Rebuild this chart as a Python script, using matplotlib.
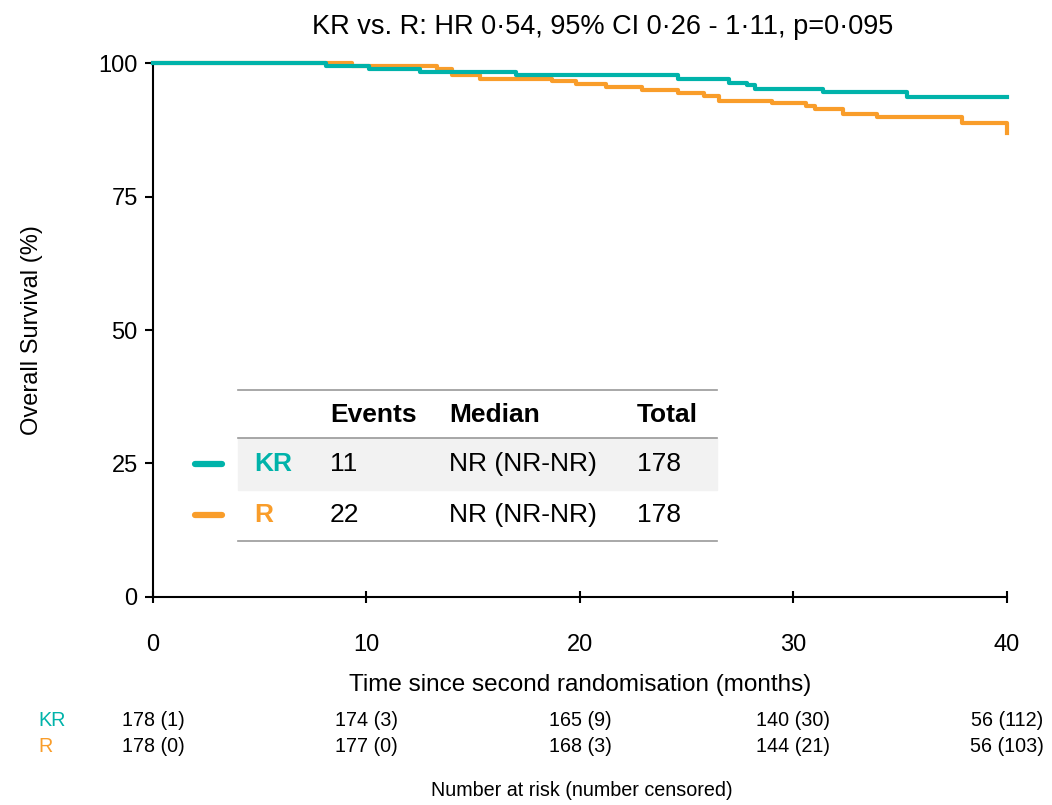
import matplotlib.pyplot as plt
import numpy as np

plt.rcParams['font.family'] = ['Liberation Sans', 'DejaVu Sans']

teal = '#00b3aa'
orange = '#f99d2a'

# Kaplan-Meier steps (months, % surviving)
kr_t = [0, 8.1, 10.1, 12.5, 17.0, 24.6, 27.0, 27.8, 28.2, 31.4, 35.3, 40]
kr_s = [100, 99.4, 98.9, 98.3, 97.7, 97.0, 96.3, 95.8, 95.2, 94.5, 93.6, 93.6]
r_t = [0, 9.3, 13.3, 14.0, 15.3, 18.7, 19.8, 21.2, 22.9, 24.6, 25.8, 26.5,
       29.0, 30.6, 31.0, 32.3, 33.9, 37.9, 40, 40]
r_s = [100, 99.4, 98.9, 97.7, 97.1, 96.6, 96.1, 95.6, 94.9, 94.4, 93.9, 92.9,
       92.5, 91.9, 91.3, 90.4, 89.8, 88.8, 86.9, 86.9]

groups = ['KR', 'R']
events = ['11', '22']
medians = ['NR (NR-NR)', 'NR (NR-NR)']
totals = ['178', '178']

risk_times = [0, 10, 20, 30, 40]
kr_risk = ['178 (1)', '174 (3)', '165 (9)', '140 (30)', '56 (112)']
r_risk = ['178 (0)', '177 (0)', '168 (3)', '144 (21)', '56 (103)']

fig = plt.figure(figsize=(10.52, 8.05), dpi=100)
ax = fig.add_axes([0.1454, 0.2584, 0.8118, 0.6633])

ax.step(kr_t, kr_s, where='post', color=teal, lw=3, clip_on=False, zorder=3)
ax.step(r_t, r_s, where='post', color=orange, lw=3, clip_on=False, zorder=2)

ax.set_xlim(0, 40)
ax.set_ylim(0, 100)
ax.set_xticks([0, 10, 20, 30, 40])
ax.set_yticks([0, 25, 50, 75, 100])
ax.spines['top'].set_visible(False)
ax.spines['right'].set_visible(False)
ax.spines['left'].set_linewidth(1.5)
ax.spines['bottom'].set_linewidth(1.5)
ax.tick_params(axis='x', direction='inout', length=9, width=1.5, pad=22, labelsize=17)
ax.tick_params(axis='y', direction='out', length=6, width=1.5, pad=5, labelsize=17)
ax.set_xlabel('Time since second randomisation (months)', fontsize=17.5, labelpad=13)
ax.set_ylabel('Overall Survival (%)', fontsize=17, labelpad=40)
ax.set_title('KR vs. R: HR 0·54, 95% CI 0·26 - 1·11, p=0·095', fontsize=19.5,
             pad=21, x=0.527)

# summary table inside the plot, in pixel-based figure coords
def fx(px):
    return px / 1052

def fy(py):
    return 1 - py / 805

tf = fig.transFigure
for yy in [390, 438, 541]:
    fig.add_artist(plt.Line2D([fx(238), fx(717)], [fy(yy), fy(yy)], transform=tf,
                              color='#999999', lw=1.2))
fig.add_artist(plt.Rectangle((fx(238), fy(490)), fx(717) - fx(238), fy(438) - fy(490),
                             transform=tf, color='#f2f2f2', zorder=0.5))
cols = [330, 449, 637]
for x, h in zip(cols, ['Events', 'Median', 'Total']):
    fig.text(fx(x), fy(415), h, fontsize=19, fontweight='bold', va='center', ha='left')
row_y = [464, 515]
for i, g in enumerate(groups):
    c = teal if i == 0 else orange
    fig.add_artist(plt.Line2D([fx(195), fx(222)], [fy(row_y[i]), fy(row_y[i])],
                              transform=tf, color=c, lw=4.5, solid_capstyle='round'))
    fig.text(fx(254), fy(row_y[i]), g, fontsize=19, fontweight='bold', color=c,
             va='center', ha='left')
    fig.text(fx(cols[0]), fy(row_y[i]), events[i], fontsize=19, va='center')
    fig.text(fx(cols[1]), fy(row_y[i]), medians[i], fontsize=19, va='center')
    fig.text(fx(cols[2]), fy(row_y[i]), totals[i], fontsize=19, va='center')

# number at risk
for t, a, b in zip(risk_times, kr_risk, r_risk):
    xf = tf.inverted().transform(ax.transData.transform((t, 0)))[0]
    fig.text(xf, fy(720), a, fontsize=14.2, ha='center', va='center')
    fig.text(xf, fy(746), b, fontsize=14.2, ha='center', va='center')
fig.text(fx(38), fy(720), 'KR', fontsize=14.2, color=teal, va='center')
fig.text(fx(38), fy(746), 'R', fontsize=14.2, color=orange, va='center')
fig.text(fx(582), fy(790), 'Number at risk (number censored)', fontsize=14.2,
         ha='center', va='center')

fig.savefig('out.png', dpi=100)
